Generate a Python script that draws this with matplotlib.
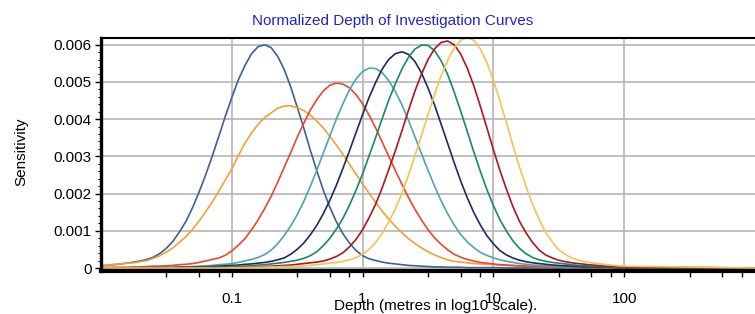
import numpy as np
import matplotlib
matplotlib.use("Agg")
import matplotlib.pyplot as plt
from matplotlib.ticker import AutoMinorLocator, LogLocator, NullFormatter

plt.rcParams['font.family'] = ['Liberation Sans', 'DejaVu Sans']

# depth in metres
depth = [0.01, 0.0112, 0.0126, 0.0141, 0.0158, 0.0178, 0.02, 0.0224, 0.0251, 0.0282,
         0.0316, 0.0355, 0.0398, 0.0447, 0.0501, 0.0562, 0.0631, 0.0708, 0.0794, 0.0891,
         0.1, 0.112, 0.126, 0.141, 0.158, 0.178, 0.2, 0.224, 0.251, 0.282,
         0.316, 0.355, 0.398, 0.447, 0.501, 0.562, 0.631, 0.708, 0.794, 0.891,
         1, 1.12, 1.26, 1.41, 1.58, 1.78, 2, 2.24, 2.51, 2.82,
         3.16, 3.55, 3.98, 4.47, 5.01, 5.62, 6.31, 7.08, 7.94, 8.91,
         10, 11.2, 12.6, 14.1, 15.8, 17.8, 20, 22.4, 25.1, 28.2,
         31.6, 35.5, 39.8, 44.7, 50.1, 56.2, 63.1, 70.8, 79.4, 89.1,
         100, 1000]

# sensitivity, in units of 1e-5
sens_blue = [6, 7, 9, 11, 13, 16, 19, 23, 29, 39,
             53, 72, 97, 126, 162, 204, 250, 300, 353, 407,
             458, 505, 544, 575, 594, 600, 592, 569, 534, 487,
             433, 376, 317, 261, 209, 163, 124, 92, 67, 47,
             33, 25, 20, 16, 13, 11, 9, 7, 6, 5,
             4, 3, 3, 2, 2, 2, 1, 1, 1, 1,
             1, 1, 0, 0, 0, 0, 0, 0, 0, 0,
             0, 0, 0, 0, 0, 0, 0, 0, 0, 0,
             0, 0]
sens_orange = [7, 8, 10, 11, 13, 14, 17, 20, 26, 33,
               43, 54, 69, 85, 104, 126, 151, 177, 206, 236,
               266, 302, 335, 362, 385, 404, 417, 429, 435, 436,
               431, 423, 411, 395, 376, 354, 330, 305, 279, 252,
               226, 201, 176, 153, 132, 112, 95, 79, 66, 54,
               44, 35, 28, 22, 18, 16, 14, 12, 11, 10,
               9, 8, 7, 6, 5, 5, 4, 4, 3, 3,
               3, 2, 2, 2, 2, 1, 1, 1, 1, 1,
               1, 0]
sens_red = [1, 1, 2, 2, 2, 3, 3, 4, 5, 5,
            6, 7, 9, 10, 12, 15, 19, 23, 27, 34,
            46, 61, 79, 102, 128, 159, 193, 230, 270, 310,
            351, 389, 424, 453, 476, 491, 497, 494, 484, 466,
            441, 411, 376, 339, 301, 262, 225, 190, 158, 129,
            103, 81, 64, 49, 37, 29, 23, 19, 15, 13,
            11, 9, 8, 7, 6, 5, 4, 4, 3, 3,
            2, 2, 2, 1, 1, 1, 1, 1, 1, 0,
            0, 0]
sens_teal = [0, 0, 1, 1, 1, 1, 1, 1, 2, 2,
             2, 2, 3, 3, 4, 5, 6, 7, 9, 10,
             12, 15, 19, 23, 28, 36, 48, 65, 87, 113,
             143, 179, 219, 263, 309, 355, 401, 442, 479, 508,
             528, 537, 536, 525, 504, 474, 438, 397, 353, 307,
             263, 220, 181, 146, 116, 90, 70, 55, 42, 34,
             27, 22, 18, 15, 12, 10, 8, 7, 6, 5,
             4, 3, 3, 2, 2, 2, 2, 1, 1, 1,
             1, 0]
sens_navy = [0, 0, 0, 0, 0, 0, 1, 1, 1, 1,
             1, 1, 2, 2, 2, 3, 3, 4, 5, 6,
             7, 8, 10, 11, 13, 15, 18, 22, 27, 37,
             50, 67, 89, 115, 146, 182, 223, 268, 315, 364,
             412, 458, 499, 534, 560, 576, 581, 574, 555, 524,
             484, 438, 387, 335, 283, 234, 189, 149, 116, 87,
             65, 47, 35, 27, 21, 17, 14, 12, 10, 8,
             7, 6, 5, 4, 3, 3, 2, 2, 2, 1,
             1, 0]
sens_green = [0, 0, 0, 0, 0, 0, 0, 0, 1, 1,
              1, 1, 1, 1, 1, 2, 2, 2, 3, 3,
              4, 5, 5, 6, 8, 9, 11, 13, 15, 18,
              21, 26, 33, 44, 60, 80, 105, 134, 169, 209,
              253, 301, 351, 401, 450, 495, 535, 566, 588, 599,
              598, 584, 557, 520, 473, 422, 367, 312, 260, 211,
              168, 130, 99, 73, 53, 38, 28, 22, 18, 15,
              13, 11, 9, 7, 6, 5, 4, 3, 3, 2,
              2, 0]
sens_darkred = [0, 0, 0, 0, 0, 0, 0, 0, 0, 0,
                0, 0, 0, 0, 1, 1, 1, 1, 1, 1,
                2, 2, 2, 3, 3, 4, 5, 6, 7, 8,
                10, 12, 14, 16, 19, 24, 31, 41, 57, 77,
                103, 135, 172, 215, 263, 315, 369, 423, 475, 521,
                560, 589, 606, 610, 600, 575, 537, 490, 435, 377,
                318, 263, 211, 165, 126, 94, 68, 48, 35, 27,
                21, 17, 14, 12, 10, 8, 7, 5, 4, 4,
                3, 0]
sens_yellow = [0, 0, 0, 0, 0, 0, 0, 0, 0, 0,
               0, 0, 0, 0, 0, 0, 0, 0, 0, 0,
               1, 1, 1, 2, 2, 2, 3, 3, 4, 4,
               5, 6, 7, 9, 11, 13, 15, 18, 22, 28,
               37, 50, 69, 93, 123, 159, 201, 249, 301, 356,
               412, 466, 516, 558, 591, 612, 619, 612, 589, 552,
               505, 449, 390, 330, 272, 218, 170, 130, 96, 70,
               49, 36, 27, 21, 17, 14, 12, 10, 8, 6,
               5, 0]
unit = 1e-5

x_ticks = [0.1, 1, 10, 100]
x_tick_labels = ['0.1', '1', '10', '100']
y_ticks = [0, 0.001, 0.002, 0.003, 0.004, 0.005, 0.006]
y_tick_labels = ['0', '0.001', '0.002', '0.003', '0.004', '0.005', '0.006']

curves = [sens_blue, sens_orange, sens_red, sens_teal, sens_navy, sens_green, sens_darkred, sens_yellow]
colors = ['#3d5f9a', '#f0a232', '#e8482c', '#4ea3b4', '#1e2a5c', '#19876c', '#b3141e', '#f4c452']

fig = plt.figure(figsize=(7.55, 3.14), dpi=100)
ax = fig.add_axes([101 / 755, 1 - 271 / 314, 1 - 101 / 755, (271 - 38) / 314])

for vals, col in zip(curves, colors):
    ax.plot(depth, np.array(vals) * unit, color=col, lw=1.2)

ax.set_xscale('log')
ax.set_xlim(0.01, 1000)
ax.set_ylim(-0.00008, 0.00618)

ax.set_xticks(x_ticks, x_tick_labels)
ax.xaxis.set_minor_locator(LogLocator(base=10, subs=(3.16, 5.62, 7.94), numticks=20))
ax.xaxis.set_minor_formatter(NullFormatter())
ax.set_yticks(y_ticks, y_tick_labels)
ax.yaxis.set_minor_locator(AutoMinorLocator(5))

ax.grid(True, which='major', color='#b5b5b5', lw=1.2)
ax.set_axisbelow(True)

ax.spines['right'].set_visible(False)
ax.spines['top'].set_linewidth(1.5)
ax.spines['left'].set_linewidth(2.4)
ax.spines['bottom'].set_linewidth(3.0)
for s in ax.spines.values():
    s.set_color('black')

ax.tick_params(axis='x', which='both', length=4, width=1, pad=11, labelsize=11)
ax.tick_params(axis='y', which='major', length=4, width=1, pad=2.5, labelsize=11)
ax.tick_params(axis='y', which='minor', length=2.5, width=0.8)

fig.text(393 / 755, 1 - 21 / 314, 'Normalized Depth of Investigation Curves',
         color='#2222cc', fontsize=11, ha='center', va='center')
fig.text(21 / 755, 1 - 152 / 314, 'Sensitivity', rotation=90, fontsize=11,
         ha='center', va='center')
fig.text(436 / 755, 1 - 310 / 314, 'Depth (metres in log10 scale).', fontsize=11,
         ha='center', va='baseline')

fig.savefig('out.png', dpi=100)
